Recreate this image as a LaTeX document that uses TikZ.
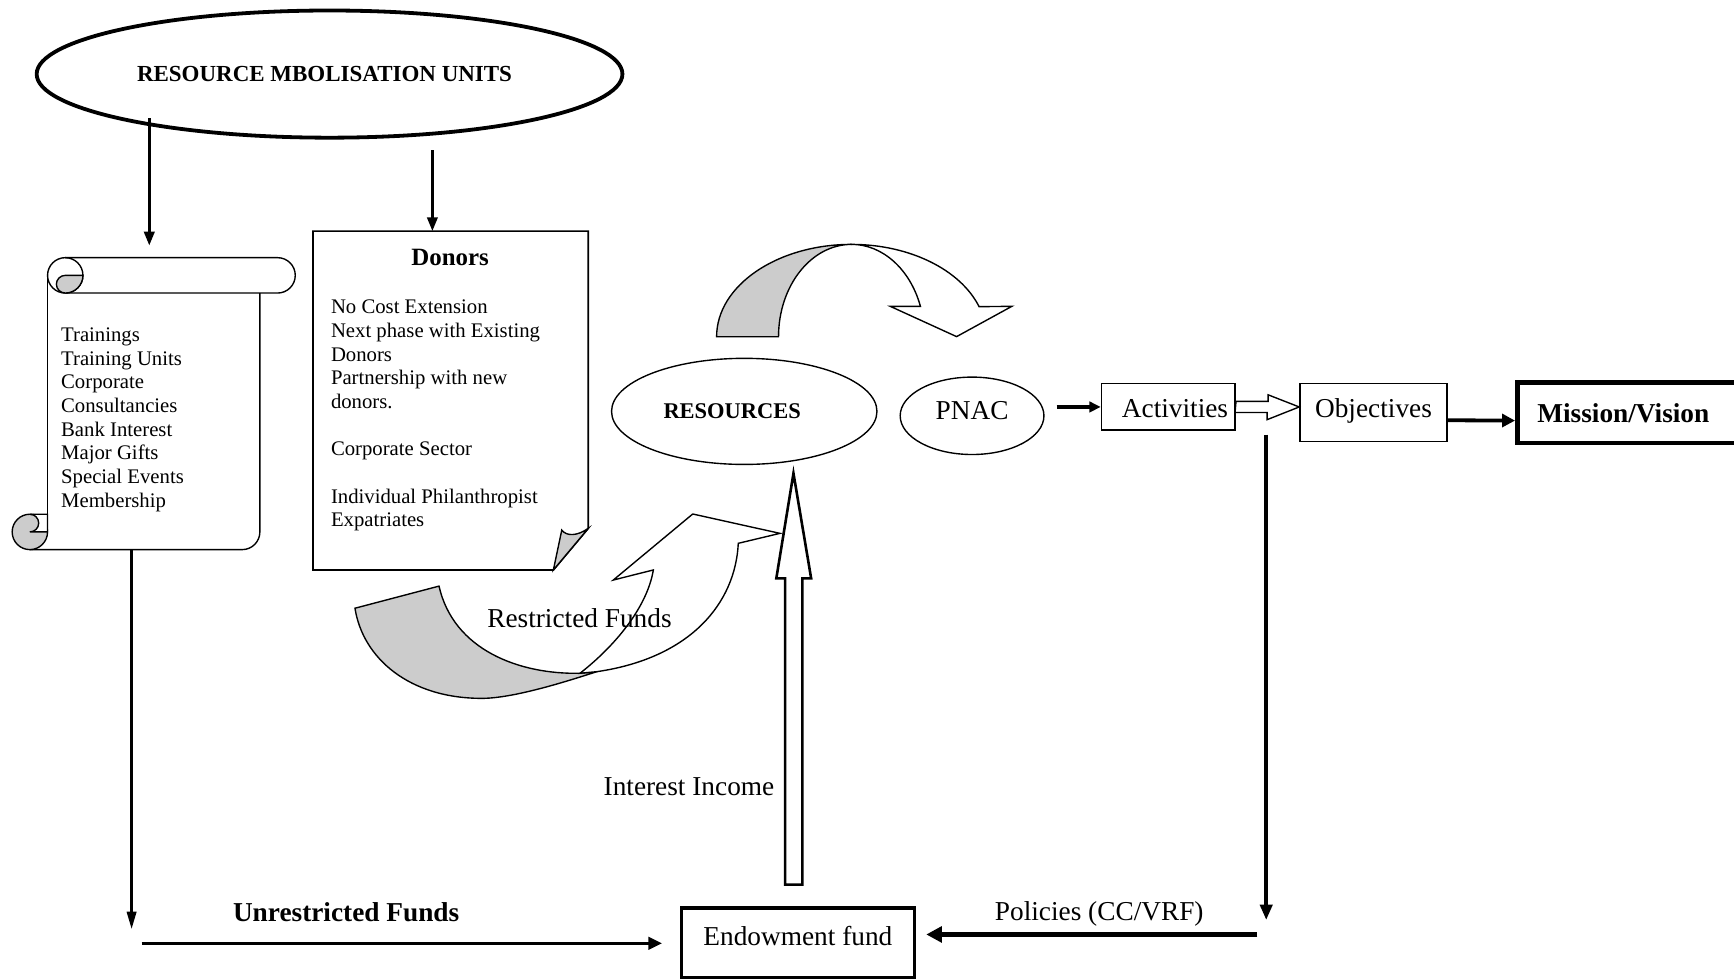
\documentclass[tikz,border=0pt]{standalone}
\usepackage{fontspec}
\setmainfont{Liberation Serif}
\usepackage{tikz}
\usetikzlibrary{shapes,arrows.meta}

\begin{document}
\begin{tikzpicture}[x=0.64pt,y=-0.64pt,
    txt/.style={font=\fontsize{12}{13.7}\selectfont,align=left,inner sep=0pt},
    lbl/.style={font=\fontsize{15.8}{18}\selectfont,inner sep=0pt},
    oval/.style={draw,ellipse,line width=0.8pt,inner sep=0pt},
    box/.style={draw,line width=0.9pt,inner sep=0pt,font=\fontsize{15.8}{18}\selectfont},
    blk/.style={draw,fill=white,line width=0.8pt,line join=miter},
    arr/.style={line width=1.6pt,-{Triangle[length=8pt,width=6pt]}}]
    \definecolor{fold}{gray}{0.8}
    \useasboundingbox (0,0) rectangle (1568,885);
    \clip (0,0) rectangle (1568,885);

    % units %
    \node[oval,line width=2.2pt,minimum width=339pt,minimum height=73.6pt,font=\bfseries\fontsize{13.3}{15}\selectfont] (units) at (298,67) {RESOURCE MBOLISATION UNITS\hspace*{5.8pt}};

    % scroll %
    \draw[line width=0.8pt] (43,249) -- (43,481);
    \draw[line width=0.8pt] (27,497) -- (219,497) arc[start angle=90,end angle=0,radius=16] -- (235,265);
    \draw[line width=0.8pt] (59,233) -- (251,233) arc[start angle=-90,end angle=90,radius=16] -- (59,265);
    \draw[line width=0.8pt] (59,249) circle[radius=16];
    \filldraw[fill=fold,line width=0.8pt] (59,249) -- (75,249) arc[start angle=0,end angle=90,radius=16] arc[start angle=90,end angle=270,radius=8] -- cycle;
    \filldraw[fill=fold,line width=0.8pt] (27,481) circle[radius=16];
    \filldraw[fill=white,line width=0.8pt] (27,481) -- (43,481) -- (43,465) -- (27,465) arc[start angle=-90,end angle=90,radius=8] -- cycle;
    \node[txt,anchor=north west] (scroll) at (55,296) {Trainings\\Training Units\\Corporate\\Consultancies\\Bank Interest\\Major Gifts\\Special Events\\Membership};

    % donors page %
    \draw[line width=1pt] (283,209) -- (532,209) -- (532,477.7) -- (500.4,515.4) -- (283,515.4) -- cycle;
    \filldraw[fill=fold,line width=0.8pt] (500.4,515.4) -- (508,479.3) .. controls (512,485) and (522,485) .. (532,477.7) -- cycle;
    \node[font=\bfseries\fontsize{14.4}{17}\selectfont,inner sep=0pt] (donors) at (407,233) {Donors};
    \node[txt,anchor=north west] (donlist) at (299,271) {No Cost Extension\\Next phase with Existing\\Donors\\Partnership with new\\donors.\\[13.7pt]Corporate Sector\\[13.7pt]Individual Philanthropist\\Expatriates};

    % curved arrows %
    \filldraw[fill=fold,line width=0.8pt] (648,304.5) arc[start angle=180,end angle=270,x radius=122,y radius=83.5] arc[start angle=270,end angle=180,x radius=66,y radius=83.5] -- cycle;
    \filldraw[fill=white,line width=0.8pt] (770,221) arc[start angle=270,end angle=341,x radius=122,y radius=83.5] -- (915,277) -- (865,304.4) -- (805,277) -- (832.3,277) arc[start angle=340.8,end angle=270,x radius=66,y radius=83.5] -- cycle;
    \filldraw[fill=fold,line width=0.8pt] (321,550) -- (397,530) .. controls (410,588) and (470,610) .. (524.5,608.8) -- (539.5,607.4) .. controls (510,617) and (465,631) .. (437,631.5) .. controls (370,632) and (328,595) .. (321,550) -- cycle;
    \filldraw[fill=white,line width=0.8pt] (524.5,608.8) .. controls (555,585) and (585,550) .. (590.8,515.4) -- (554.6,524.5) -- (626.4,464.8) -- (705.3,482.3) -- (667.6,491.3) .. controls (665,545) and (625,595) .. (539.5,607.4) -- cycle;

    % flow %
    \node[oval,minimum width=153.6pt,minimum height=61.4pt,font=\bfseries\fontsize{13}{15}\selectfont] (res) at (673,372) {RESOURCES\hspace*{14pt}};
    \node[oval,minimum width=83.2pt,minimum height=44.8pt,font=\fontsize{15.8}{18}\selectfont,text height=11pt,text depth=7pt] (pnac) at (879,376) {PNAC};
    \node[box,minimum width=77.4pt,minimum height=26.9pt,text height=12pt,text depth=0pt] (act) at (1056.5,368) {\hspace*{7.7pt}Activities};
    \node[box,minimum width=85.1pt,minimum height=33.5pt,text height=11pt,text depth=5pt] (obj) at (1242,373) {Objectives};
    \node[box,line width=2.8pt,anchor=west,minimum height=35pt,text width=111.4pt,inner xsep=11.5pt,align=left,font=\bfseries\fontsize{15.8}{18}\selectfont] (mission) at (1370,373.3) {Mission/Vision};
    \node[box,line width=2pt,minimum width=135pt,minimum height=40.3pt,text height=10pt,text depth=7pt] (endow) at (721.5,852.5) {Endowment fund};

    \node[lbl] (restr) at (524,559) {Restricted Funds};
    \node[lbl] (intr) at (623,711) {Interest Income};
    \node[lbl,font=\bfseries\fontsize{15.8}{18}\selectfont] (unr) at (313,825) {Unrestricted Funds};
    \node[lbl] (pol) at (994,826) {Policies (CC/VRF)};

    % connectors %
    \coordinate (u1) at (135,107);
    \coordinate (s1) at (135,222);
    \coordinate (u2) at (391,136);
    \coordinate (d1) at (391,209);
    \draw[arr] (u1) -- (s1);
    \draw[arr] (u2) -- (d1);
    \draw[arr,line width=2pt,-{Triangle[length=6.5pt,width=6pt]}] ([xshift=7pt]pnac.east |- act.west) -- (act.west);
    \draw[blk] ([yshift=3.2pt]act.east) -- ++(29,0) -- ++(0,-6) -- (obj.west |- act.east) -- ++(-29,11.5) -- ++(0,-6.5) -- ++(-29,0) -- cycle;
    \draw[arr,line width=2.2pt,-{Triangle[length=7.5pt,width=7.5pt]}] ([yshift=-4.5pt]obj.east) -- ([yshift=-4.5pt]mission.west);

    \coordinate (ib) at (717.5,800);
    \coordinate (it) at (717.5,428);
    \draw[blk,line width=1.5pt] (ib) ++(-7.5,0) -- ++(0,-277) -- ++(-8,0) -- (it) -- ++(16,95) -- ++(-8,0) -- ++(0,277) -- cycle;

    \coordinate (v1) at (1145,393);
    \coordinate (v2) at (1145,832);
    \coordinate (p1) at (1137,845);
    \draw[arr,line width=2.4pt,-{Triangle[length=9pt,width=7pt]}] (v1) -- (v2);
    \draw[arr,line width=2.8pt,-{Triangle[length=9pt,width=9pt]}] (p1) -- ([xshift=5.8pt]endow.east |- p1);

    \coordinate (l1) at (119,497);
    \coordinate (l2) at (119,840);
    \coordinate (l3) at (128,853);
    \draw[arr,line width=1.3pt,-{Triangle[length=10pt,width=5.5pt]}] (l1) -- (l2);
    \draw[arr,line width=2pt,-{Triangle[length=8pt,width=7pt]}] (l3) -- ([xshift=-10pt]endow.west |- l3);
\end{tikzpicture}
\end{document}
